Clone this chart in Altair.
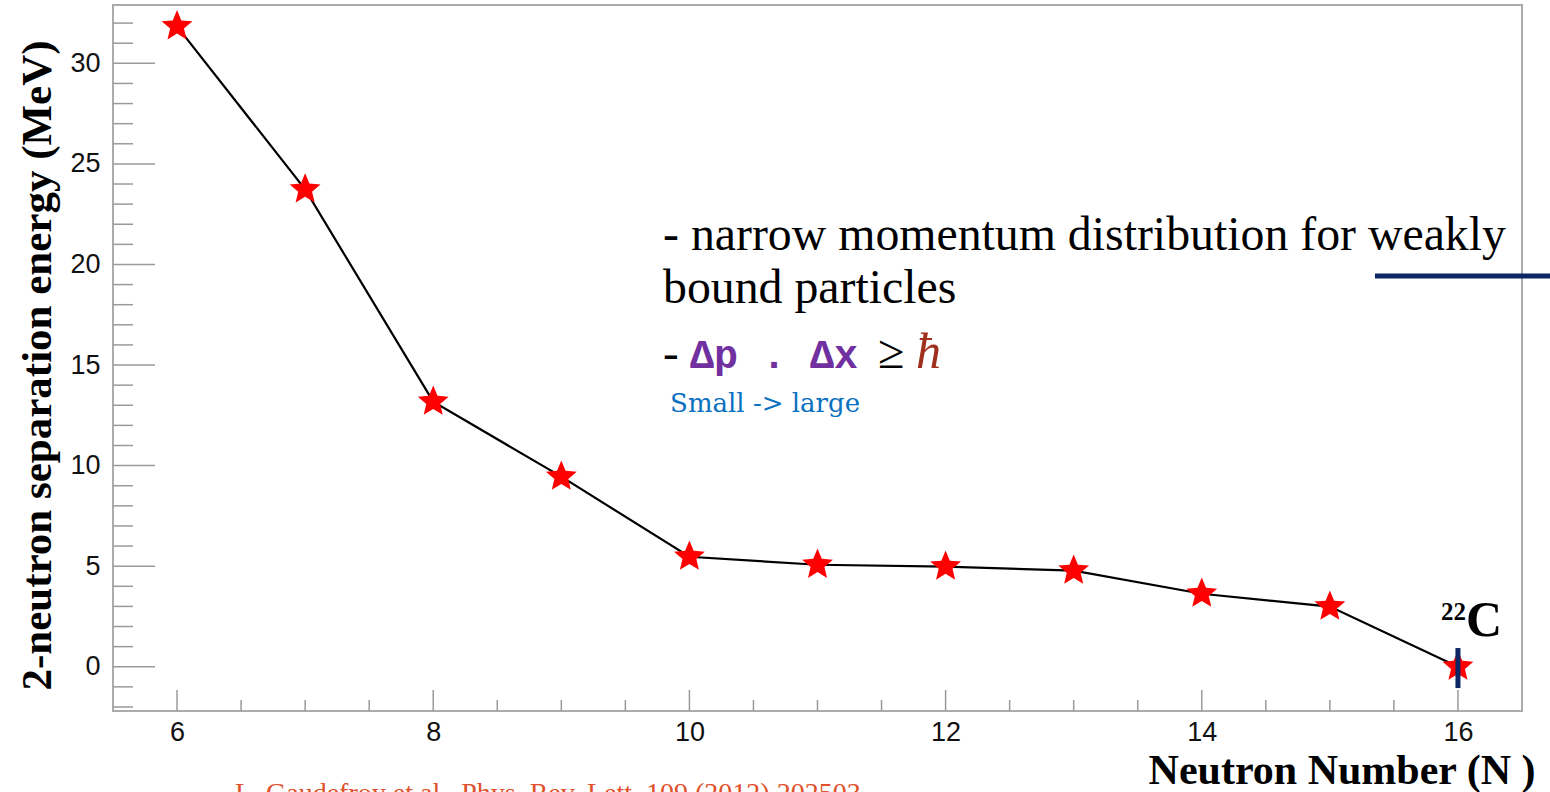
import altair as alt
import pandas as pd

# Two-neutron separation energies along the carbon isotope chain
neutron_number = [6, 7, 8, 9, 10, 11, 12, 13, 14, 15, 16]
s2n_mev = [31.84, 23.73, 13.18, 9.45, 5.47, 5.07, 4.98, 4.78, 3.63, 2.99, 0.0]

# Axis ticks (drawn inside the frame, ROOT style)
y_major = [0, 5, 10, 15, 20, 25, 30]
y_minor = [v for v in range(-2, 33) if v % 5 != 0]
x_major = [6, 8, 10, 12, 14, 16]
x_minor = [v / 2 for v in range(13, 33) if v % 4 != 0]

X_DOMAIN = [5.5, 16.5]
Y_DOMAIN = [-2.2, 32.9]
W, H = 1409, 706

# Five-pointed star marker as a unit SVG path
STAR = ("M0,-1L0.2645,-0.364L0.9511,-0.309L0.428,0.139L0.5878,0.809"
        "L0,0.45L-0.5878,0.809L-0.428,0.139L-0.9511,-0.309L-0.2645,-0.364Z")

xs = alt.Scale(domain=X_DOMAIN, nice=False, zero=False)
ys = alt.Scale(domain=Y_DOMAIN, nice=False, zero=False)

SANS = "Liberation Sans"
SERIF = "Liberation Serif"
MONO = "Liberation Mono"

df = pd.DataFrame({"N": neutron_number, "S2n": s2n_mev})

x_axis = alt.Axis(
    values=x_major, format="d", ticks=False, domain=False, grid=False,
    orient="bottom",
    labelFont=SANS, labelFontSize=27, labelColor="#111", labelPadding=8,
    title="Neutron Number (N )", titleFont=SERIF, titleFontSize=42,
    titleFontWeight="bold", titleColor="#000", titleAlign="right",
    titleAnchor="end", titleBaseline="alphabetic", titleX=1422, titleY=72,
)
y_axis = alt.Axis(
    values=y_major, format="d", ticks=False, domain=False, grid=False,
    orient="left",
    labelFont=SANS, labelFontSize=27, labelColor="#111", labelPadding=13,
    title="2-neutron separation energy (MeV)", titleFont=SERIF,
    titleFontSize=43, titleFontWeight="bold", titleColor="#000",
    titleAngle=-90, titleAlign="center", titleBaseline="middle",
    titleX=-76, titleY=360,
)


# Every layer shares the same scales and the same axis definitions
def X(field):
    return alt.X(field, scale=xs, axis=x_axis)


def Y(field):
    return alt.Y(field, scale=ys, axis=y_axis)


base = alt.Chart(df)

curve = base.mark_line(color="#000", strokeWidth=2.2).encode(x=X("N:Q"), y=Y("S2n:Q"))
stars = base.mark_point(
    shape=STAR, filled=True, color="#ff0000", opacity=1, size=1050
).encode(x=X("N:Q"), y=Y("S2n:Q"))

TICK = "#9a9a9a"
ymaj = alt.Chart(pd.DataFrame({"v": y_major})).mark_rule(color=TICK, strokeWidth=1.5).encode(
    y=Y("v:Q"), x=alt.value(0), x2=alt.value(42))
ymin = alt.Chart(pd.DataFrame({"v": y_minor})).mark_rule(color=TICK, strokeWidth=1.5).encode(
    y=Y("v:Q"), x=alt.value(0), x2=alt.value(20))
xmaj = alt.Chart(pd.DataFrame({"v": x_major})).mark_rule(color=TICK, strokeWidth=1.5).encode(
    x=X("v:Q"), y=alt.value(H), y2=alt.value(H - 21))
xmin = alt.Chart(pd.DataFrame({"v": x_minor})).mark_rule(color=TICK, strokeWidth=1.5).encode(
    x=X("v:Q"), y=alt.value(H), y2=alt.value(H - 11))


# Annotations placed in data coordinates
def note(text, x, y, font, size, color, weight="normal", style="normal", align="left"):
    return alt.Chart(pd.DataFrame({"x": [x], "y": [y], "t": [text]})).mark_text(
        font=font, fontSize=size, color=color, fontWeight=weight, fontStyle=style,
        align=align, baseline="alphabetic", clip=False,
    ).encode(x=X("x:Q"), y=Y("y:Q"), text="t:N")


notes = [
    note("- narrow momentum distribution for weakly", 9.794, 20.72, SERIF, 47.8, "#000"),
    note("bound particles", 9.794, 18.08, SERIF, 47.8, "#000"),
    note("-", 9.794, 14.85, SERIF, 47, "#000"),
    note("\u0394p . \u0394x", 10.005, 14.85, MONO, 40, "#7030a0", weight="bold"),
    note("\u2265", 11.472, 14.85, SERIF, 48, "#000"),
    note("\u0127", 11.769, 14.85, SERIF, 50, "#a0301e", style="italic"),
    note("Small -> large", 9.849, 12.67, "DejaVu Serif", 26, "#0a70c0"),
    note("22", 16.063, 2.32, SERIF, 25, "#000", weight="bold", align="right"),
    note("C", 16.063, 1.53, SERIF, 50, "#000", weight="bold"),
    note("L. Gaudefroy et al., Phys. Rev. Lett. 109 (2012) 202503",
         6.452, -6.72, SERIF, 28, "#e0502a"),
]

NAVY = "#0b2565"
hbar = alt.Chart(pd.DataFrame({"x": [15.352], "x2": [16.72], "y": [19.43]})).mark_rule(
    color=NAVY, strokeWidth=5, clip=False).encode(
    x=X("x:Q"), x2="x2:Q", y=Y("y:Q"))
vbar = alt.Chart(pd.DataFrame({"x": [16], "y": [0.93], "y2": [-1.06]})).mark_rule(
    color=NAVY, strokeWidth=5).encode(
    x=X("x:Q"), y=Y("y:Q"), y2="y2:Q")

chart = alt.layer(
    curve, ymaj, ymin, xmaj, xmin, stars, vbar, hbar, *notes
).properties(
    width=W, height=H,
    padding={"left": 113, "top": 5, "right": 28, "bottom": 81},
    autosize=alt.AutoSizeParams(type="none"),
    background="white",
).configure_view(stroke="#ababab", strokeWidth=2)

chart.save("out.html", embed_options={"renderer": "svg", "actions": False})
